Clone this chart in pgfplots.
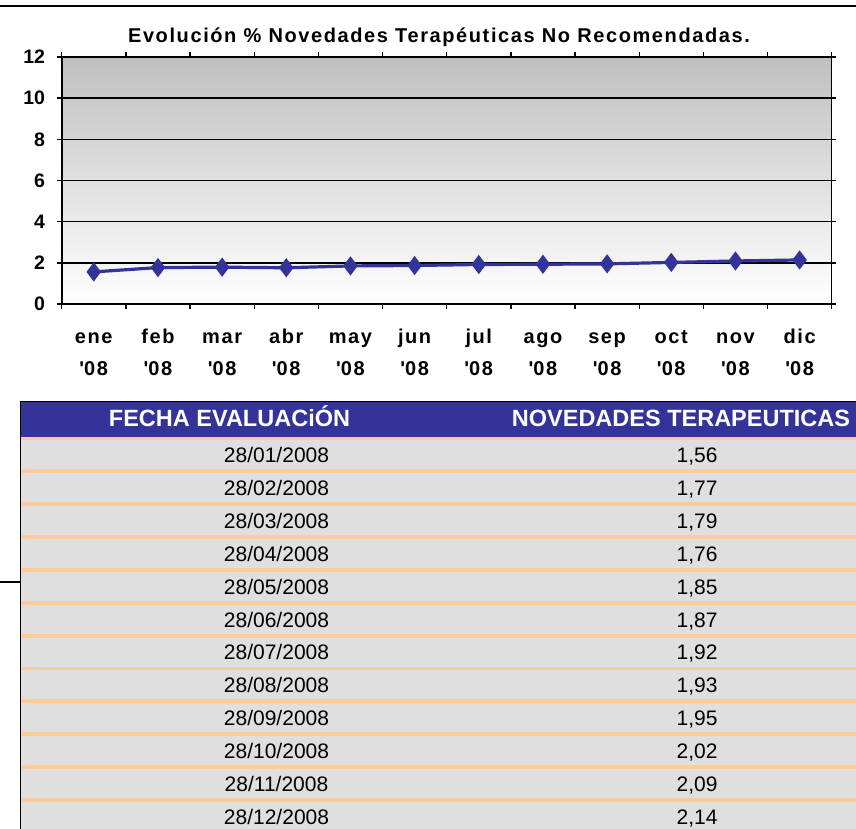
\documentclass[border=0pt]{standalone}
\usepackage{fontspec}
\setmainfont{Liberation Sans}
\newfontfamily\chartfont[LetterSpace=8]{Liberation Sans}
\usepackage{pgfplots}
\pgfplotsset{compat=1.18}
\definecolor{navy}{RGB}{51,51,153}
\definecolor{rowgray}{RGB}{223,223,223}
\definecolor{sepor}{RGB}{255,204,153}
\definecolor{topgray}{RGB}{192,192,192}
\begin{document}
\begin{tikzpicture}[x=1pt,y=1pt]
\useasboundingbox (0,0) rectangle (856,-829);
\draw[line width=1.2pt] (0,-6) -- (856,-6);
\node[anchor=base, inner sep=0pt] at (439,-42.7) {\chartfont\bfseries\fontsize{20}{22}\selectfont Evolución \% Novedades Terapéuticas No Recomendadas.};
\begin{axis}[
  at={(61.7pt,-304pt)}, anchor=south west,
  scale only axis, width=770pt, height=247pt,
  xmin=-0.5, xmax=11.5, ymin=0, ymax=12,
  ytick={0,2,4,6,8,10,12},
  /pgf/number format/assume math mode=true,
  xtick={-0.5,0.5,...,11.5}, xticklabels={},
  extra x ticks={0,1,2,3,4,5,6,7,8,9,10,11},
  extra x tick labels={{\strut ene\\\textquotesingle08},{\strut feb\\\textquotesingle08},{\strut mar\\\textquotesingle08},{\strut abr\\\textquotesingle08},{\strut may\\\textquotesingle08},{\strut jun\\\textquotesingle08},{\strut jul\\\textquotesingle08},{\strut ago\\\textquotesingle08},{\strut sep\\\textquotesingle08},{\strut oct\\\textquotesingle08},{\strut nov\\\textquotesingle08},{\strut dic\\\textquotesingle08}},
  extra x tick style={major tick length=0pt, grid=none},
  xticklabel style={align=center, anchor=north, inner sep=0pt, yshift=-17pt, font=\chartfont\bfseries\fontsize{20}{32}\selectfont},
  yticklabel style={anchor=east, inner sep=0pt, xshift=-12pt, font=\bfseries\fontsize{19.5}{22}\selectfont},
  tick align=outside, major tick length=4.5pt,
  ymajorgrids, grid style={black, line width=1.4pt},
  axis line style={black, line width=1.4pt},
  tick style={black, line width=1.4pt},
  axis background/.style={top color=topgray, bottom color=white},
]
\addplot[color=navy, line width=3.2pt, mark=diamond*, mark size=7pt, mark options={solid, fill=navy}] coordinates {
(0,1.56) (1,1.77) (2,1.79) (3,1.76) (4,1.85) (5,1.87) (6,1.92) (7,1.93) (8,1.95) (9,2.02) (10,2.09) (11,2.14)};
\draw[black, line width=2.2pt] (rel axis cs:0,0) -- (rel axis cs:0,1);
\draw[black, line width=2.2pt] (rel axis cs:0,0) -- (rel axis cs:1,0);
\end{axis}
% table
\fill[navy] (20,-401.5) rectangle (856,-437);
\draw[line width=1pt] (20,-401.5) -- (856,-401.5);
\fill[rowgray] (20.5,-437) rectangle (856,-829);
\foreach \k in {0,...,11} {
  \fill[sepor] (20.5,{-(436.6+32.85*\k)}) rectangle (856,{-(440.4+32.85*\k)});
}
\draw[line width=1.2pt] (20.3,-401) -- (20.3,-829);
\draw[line width=1.4pt] (0,-582) -- (20.3,-582);
\node[anchor=base, inner sep=0pt, text=white] at (229.5,-426) {\bfseries\fontsize{23.5}{26}\selectfont FECHA EVALUACiÓN};
\node[anchor=base, inner sep=0pt, text=white] at (681,-426) {\bfseries\fontsize{23.5}{26}\selectfont NOVEDADES TERAPEUTICAS};
\foreach \d/\v [count=\i from 0] in {01/1{,}56,02/1{,}77,03/1{,}79,04/1{,}76,05/1{,}85,06/1{,}87,07/1{,}92,08/1{,}93,09/1{,}95,10/2{,}02,11/2{,}09,12/2{,}14} {
  \node[anchor=base, inner sep=0pt] at (276.5,{-(462.8+32.85*\i)}) {\fontsize{21}{24}\selectfont 28/\d/2008};
  \node[anchor=base, inner sep=0pt] at (697,{-(462.8+32.85*\i)}) {\fontsize{21}{24}\selectfont \v};
}
\end{tikzpicture}
\end{document}
